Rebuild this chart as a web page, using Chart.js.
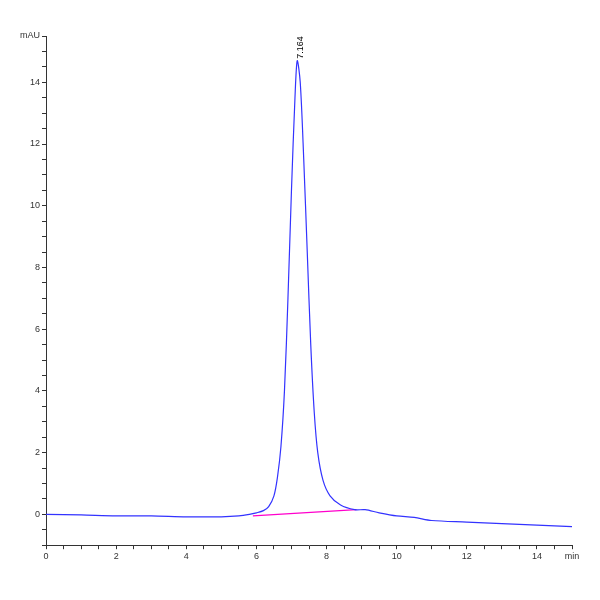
<!DOCTYPE html>
<html><head><script src="https://cdn.jsdelivr.net/npm/chart.js"></script>
<style>body{margin:0;background:#fff}#w{width:600px;height:600px}</style></head>
<body><div id="w"><canvas id="c"></canvas></div>
<script>
const times=[0,1,2,3,4,5,5.5,5.8,6,6.2,6.35,6.5,6.6,6.7,6.8,6.9,7.0,7.1,7.164,7.25,7.35,7.45,7.55,7.65,7.75,7.9,8.1,8.4,8.8,9.1,9.5,10,10.5,11,12,13,14,15];
const signal=[0,-0.02,-0.05,-0.05,-0.08,-0.08,-0.05,0.0,0.05,0.12,0.25,0.6,1.2,2.2,4,7,10.5,13.5,14.7,14.0,11.5,8.5,5.5,3.3,2.0,1.1,0.6,0.3,0.15,0.15,0.05,-0.05,-0.1,-0.2,-0.25,-0.3,-0.35,-0.4];
const baseX=[5.9,8.85];
const baseY=[-0.05,0.15];
const peakLabel="7.164";
const pts=times.map((t,i)=>({x:t,y:signal[i]}));
const bl=baseX.map((t,i)=>({x:t,y:baseY[i]}));
const lbl={id:'lbl',afterDatasetsDraw(ch){const c=ch.ctx,x=ch.scales.x.getPixelForValue(7.164),y=ch.scales.y.getPixelForValue(14.7);
c.save();c.translate(x+3,y-2);c.rotate(-Math.PI/2);c.font='9px "Liberation Sans"';c.fillStyle='#000';c.textBaseline='middle';c.fillText(peakLabel,0,0);c.restore();}};
const g={drawOnChartArea:false,tickLength:4,color:'#333'};
new Chart(document.getElementById('c'),{type:'scatter',data:{datasets:[
{data:pts,showLine:true,borderColor:'#3333ff',borderWidth:1.2,pointRadius:0,tension:0.3},
{data:bl,showLine:true,borderColor:'#ff00cc',borderWidth:1.2,pointRadius:0}]},
options:{responsive:true,maintainAspectRatio:false,animation:false,layout:{padding:{left:0,right:28,top:36,bottom:36}},
plugins:{legend:{display:false},tooltip:{enabled:false}},
scales:{x:{type:'linear',min:0,max:15,grid:g,border:{color:'#333'},
ticks:{stepSize:0.5,autoSkip:false,maxRotation:0,padding:2,font:{size:9,family:'Liberation Sans'},color:'#333',callback:v=>v===15?'min':(v%2===0?v:'')}},
y:{min:-1,max:15.5,grid:g,border:{color:'#333'},afterFit(s){s.width=46;},
ticks:{stepSize:0.5,autoSkip:false,padding:2,font:{size:9,family:'Liberation Sans'},color:'#333',callback:v=>v===15.5?'mAU':(v%2===0?v:'')}}}},
plugins:[lbl]});
</script></body></html>
